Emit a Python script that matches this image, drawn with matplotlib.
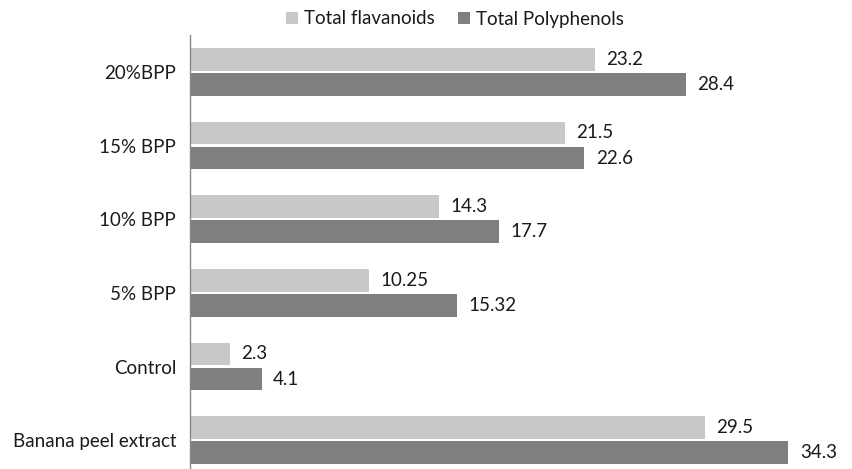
import matplotlib
matplotlib.use("Agg")
import matplotlib.pyplot as plt
import numpy as np

categories = ["Banana peel extract", "Control", "5% BPP", "10% BPP", "15% BPP", "20%BPP"]
flavanoids = [29.5, 2.3, 10.25, 14.3, 21.5, 23.2]
polyphenols = [34.3, 4.1, 15.32, 17.7, 22.6, 28.4]
flav_labels = ["29.5", "2.3", "10.25", "14.3", "21.5", "23.2"]
poly_labels = ["34.3", "4.1", "15.32", "17.7", "22.6", "28.4"]
series_names = ["Total flavanoids", "Total Polyphenols"]

plt.rcParams['font.family'] = ['Lato', 'DejaVu Sans']
fs = 13.5

fig = plt.figure(figsize=(8.53, 4.69), dpi=100)
ax = fig.add_axes([190 / 853, -8 / 469, (853 - 190) / 853, (469 - 35 + 8) / 469])

y = np.arange(len(categories))
h = 0.31
gap = 0.015
c_flav = "#c8c8c8"
c_poly = "#7f7f7f"

b1 = ax.barh(y + h / 2 + gap, flavanoids, height=h, color=c_flav, label=series_names[0])
b2 = ax.barh(y - h / 2 - gap, polyphenols, height=h, color=c_poly, label=series_names[1])

for bars, labels in ((b1, flav_labels), (b2, poly_labels)):
    for rect, lab in zip(bars, labels):
        ax.text(rect.get_width() + 0.65, rect.get_y() + rect.get_height() / 2, lab,
                va="center", ha="left", fontsize=fs, color="#1a1a1a")

ax.set_xlim(0, 38)
ax.set_ylim(-0.5, len(categories) - 0.5)
ax.set_yticks(y)
ax.set_yticklabels(categories, fontsize=fs, color="#1a1a1a")
ax.tick_params(axis="y", length=0, pad=10)
ax.set_xticks([])
for s in ("top", "right", "bottom"):
    ax.spines[s].set_visible(False)
ax.spines["left"].set_color("#888888")
ax.spines["left"].set_linewidth(1.0)

fig.legend(handles=[b1, b2], labels=series_names, loc="center", bbox_to_anchor=(455 / 853, 1 - 19 / 469),
           ncol=2, frameon=False, fontsize=fs, handlelength=0.65, handleheight=0.65,
           handletextpad=0.35, columnspacing=1.2, labelcolor="#1a1a1a")

fig.savefig("out.png", dpi=100)
